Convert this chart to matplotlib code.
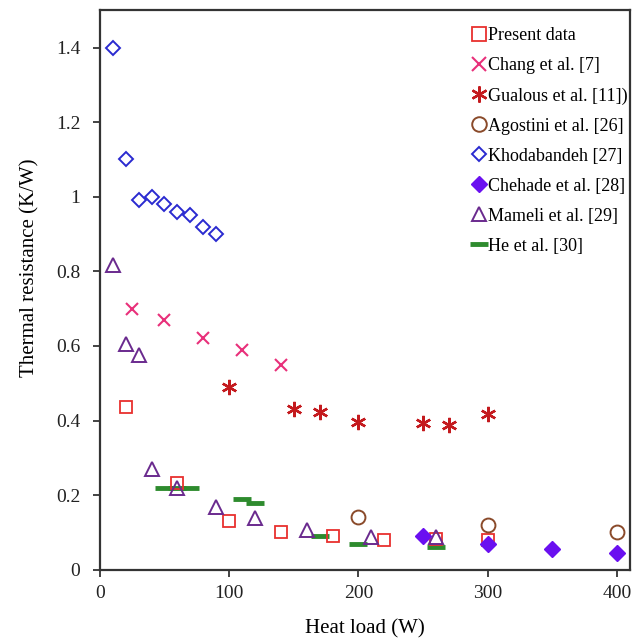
from matplotlib import pyplot as plt
import numpy as np

plt.rcParams['font.family'] = ['Liberation Serif', 'DejaVu Serif']

# %% data: heat load (W) vs thermal resistance (K/W)
present_q = [20, 60, 100, 140, 180, 220, 260, 300]
present_r = [0.435, 0.233, 0.13, 0.10, 0.09, 0.08, 0.082, 0.08]

chang_q = [25, 50, 80, 110, 140]
chang_r = [0.70, 0.67, 0.62, 0.59, 0.55]

gualous_q = [100, 150, 170, 200, 250, 270, 300]
gualous_r = [0.49, 0.432, 0.424, 0.397, 0.393, 0.387, 0.418]

agostini_q = [200, 300, 400]
agostini_r = [0.142, 0.12, 0.10]

khoda_q = [10, 20, 30, 40, 50, 60, 70, 80, 90]
khoda_r = [1.40, 1.10, 0.99, 1.00, 0.98, 0.96, 0.95, 0.92, 0.90]

chehade_q = [250, 300, 350, 400]
chehade_r = [0.091, 0.07, 0.056, 0.046]

mameli_q = [10, 20, 30, 40, 60, 90, 120, 160, 210, 260]
mameli_r = [0.818, 0.606, 0.577, 0.27, 0.22, 0.167, 0.14, 0.107, 0.088, 0.087]

he_q = [50, 60, 70, 110, 120, 170, 200, 260]
he_r = [0.22, 0.22, 0.22, 0.19, 0.18, 0.09, 0.07, 0.062]

# %% plot
fig = plt.figure(figsize=(6.44, 6.38), dpi=100)
ax = fig.add_axes([0.155, 0.107, 0.823, 0.877])

ax.plot(he_q, he_r, ls='none', marker='_', ms=13, mew=3.5, color='#2e8b2e', label='He et al. [30]', zorder=2)
ax.plot(present_q, present_r, ls='none', marker='s', ms=9, mfc='none', mew=1.3, color='#e8302e', label='Present data', zorder=3)
ax.plot(chang_q, chang_r, ls='none', marker='x', ms=9, mew=1.5, color='#e8307a', label='Chang et al. [7]', zorder=3)
ax.plot(gualous_q, gualous_r, ls='none', marker=(6, 2, 0), ms=11, mew=1.7, color='#c41a1e', label='Gualous et al. [11])', zorder=3)
ax.plot(agostini_q, agostini_r, ls='none', marker='o', ms=10, mfc='none', mew=1.4, color='#8a4a2a', label='Agostini et al. [26]', zorder=3)
ax.plot(khoda_q, khoda_r, ls='none', marker='D', ms=7, mfc='none', mew=1.4, color='#2a2ad0', label='Khodabandeh [27]', zorder=3)
ax.plot(mameli_q, mameli_r, ls='none', marker='^', ms=10, mfc='none', mew=1.4, color='#6a2a8e', label='Mameli et al. [29]', zorder=4)
ax.plot(chehade_q, chehade_r, ls='none', marker='D', ms=8, color='#6a10f0', label='Chehade et al. [28]', zorder=5)

ax.set_xlim(0, 410)
ax.set_ylim(0, 1.5)
ax.set_xticks([0, 100, 200, 300, 400])
ax.set_yticks([0, 0.2, 0.4, 0.6, 0.8, 1.0, 1.2, 1.4])
ax.set_yticklabels(['0', '0.2', '0.4', '0.6', '0.8', '1', '1.2', '1.4'])
ax.tick_params(direction='out', length=5, width=1.2, labelsize=14, colors='#222222')
ax.tick_params(axis='y', pad=9)
ax.tick_params(axis='x', pad=6)
for s in ax.spines.values():
    s.set_linewidth(1.6)
    s.set_color('#333333')

ax.set_xlabel('Heat load (W)', fontsize=15)
ax.set_ylabel('Thermal resistance (K/W)', fontsize=15)
ax.xaxis.set_label_coords(0.5, -0.088)
ax.yaxis.set_label_coords(-0.113, 0.54)

handles, labels = ax.get_legend_handles_labels()
order = ['Present data', 'Chang et al. [7]', 'Gualous et al. [11])', 'Agostini et al. [26]',
         'Khodabandeh [27]', 'Chehade et al. [28]', 'Mameli et al. [29]', 'He et al. [30]']
hmap = dict(zip(labels, handles))
ax.legend([hmap[k] for k in order], order, loc='upper left', bbox_to_anchor=(0.672, 1.0),
          frameon=False, fontsize=13, handlelength=0.7, handletextpad=0.15,
          labelspacing=0.72, borderpad=0.45, markerscale=1.05)

plt.savefig('out.png', dpi=100)
